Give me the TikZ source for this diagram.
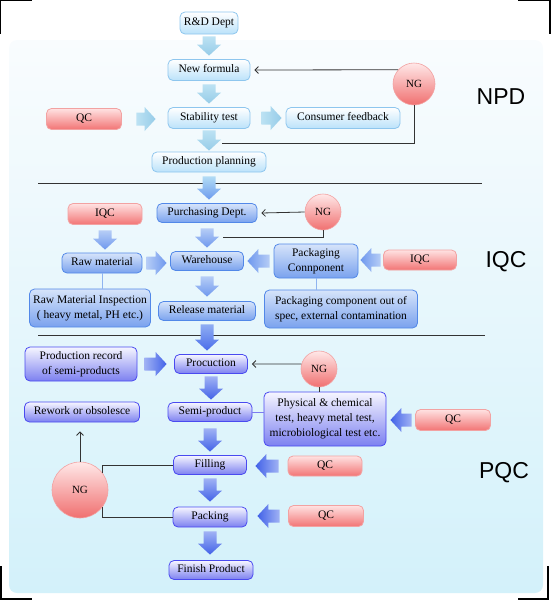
\documentclass[tikz,border=0pt]{standalone}
\usepackage{fontspec}
\setmainfont{Liberation Serif}
\newfontfamily\labfont{Liberation Sans}
\usetikzlibrary{calc,arrows.meta}
\definecolor{bgT}{HTML}{F9FCFE}
\definecolor{bgB}{HTML}{D3F1FA}
\definecolor{npdB}{HTML}{8EC6EE}
\definecolor{npdF}{HTML}{BBE2FA}
\definecolor{iqcB}{HTML}{5288E8}
\definecolor{iqcT}{HTML}{D6E4FA}
\definecolor{iqcF}{HTML}{7AA2EE}
\definecolor{pqcB}{HTML}{4A4AF0}
\definecolor{pqcT}{HTML}{F6F6FF}
\definecolor{pqcF}{HTML}{7C80F0}
\definecolor{redB}{HTML}{F2A2A2}
\definecolor{redT}{HTML}{FFE2E2}
\definecolor{redF}{HTML}{F27474}
\definecolor{ngT}{HTML}{FFE8E8}
\definecolor{ngF}{HTML}{F07070}
\definecolor{aNl}{HTML}{BCE2F3}
\definecolor{aNd}{HTML}{96CCE8}
\definecolor{aTl}{HTML}{B2DCF5}
\definecolor{aTd}{HTML}{6C9AEE}
\definecolor{aIl}{HTML}{B6CDF6}
\definecolor{aId}{HTML}{6E98EE}
\definecolor{aJl}{HTML}{8FAEF3}
\definecolor{aJd}{HTML}{4A6CEA}
\definecolor{aPl}{HTML}{A0B2F4}
\definecolor{aPd}{HTML}{4262E8}
\definecolor{connC}{HTML}{333333}
\definecolor{lineI}{HTML}{8FB4F0}
\definecolor{lineP}{HTML}{7C7CF0}
\newcommand\myDarr[5]{\shade[#1] let \p1=($(#2.south)+(0,#4)$), \p2=($(#3.north)+(0,-#5)$) in (\x1-6.5pt,\y1) -- (\x1+6.5pt,\y1) -- (\x1+6.5pt,\y2+11pt) -- (\x1+12pt,\y2+11pt) -- (\x1,\y2) -- (\x1-12pt,\y2+11pt) -- (\x1-6.5pt,\y2+11pt) -- cycle;}
\newcommand\myRarr[5]{\shade[#1] let \p1=($(#2.east)+(#4,0)$), \p2=($(#3.west)+(-#5,0)$) in (\x1,\y1+6.5pt) -- (\x2-11pt,\y1+6.5pt) -- (\x2-11pt,\y1+12pt) -- (\x2,\y1) -- (\x2-11pt,\y1-12pt) -- (\x2-11pt,\y1-6.5pt) -- (\x1,\y1-6.5pt) -- cycle;}
\newcommand\myLarr[5]{\shade[#1] let \p1=($(#2.west)+(-#4,0)$), \p2=($(#3.east)+(#5,0)$) in (\x1,\y1+6.5pt) -- (\x2+11pt,\y1+6.5pt) -- (\x2+11pt,\y1+12pt) -- (\x2,\y1) -- (\x2+11pt,\y1-12pt) -- (\x2+11pt,\y1-6.5pt) -- (\x1,\y1-6.5pt) -- cycle;}
\begin{document}
\begin{tikzpicture}[x=1pt,y=-1pt,
  box/.style={rounded corners=5pt, line width=0.8pt, inner sep=1pt, align=center, font=\fontsize{11.5}{15}\selectfont},
  one/.style={text height=8pt, text depth=2.5pt},
  npd/.style={box, draw=npdB, top color=white, bottom color=npdF},
  iqc/.style={box, draw=iqcB, top color=iqcT, bottom color=iqcF},
  pqc/.style={box, draw=pqcB, top color=pqcT, bottom color=pqcF},
  redbox/.style={box, one, draw=redB, top color=redT, bottom color=redF, minimum width=75pt, minimum height=21pt},
  ngc/.style={circle, draw=redB, line width=0.6pt, top color=ngT, bottom color=ngF, inner sep=0pt, font=\fontsize{11}{13}\selectfont},
  lab/.style={font=\labfont\fontsize{23}{23}\selectfont, inner sep=0pt},
  conn/.style={draw=connC, line width=0.8pt},
  tip/.style={-{Straight Barb[length=3.5pt,width=7pt]}},
  divider/.style={draw=connC, line width=0.8pt},
  corner/.style={draw=black, line width=1.4pt},
  aNv/.style={top color=aNl, bottom color=aNd},
  aNr/.style={left color=aNl, right color=aNd},
  aTv/.style={top color=aTl, bottom color=aTd},
  aIv/.style={top color=aIl, bottom color=aId},
  aIr/.style={left color=aIl, right color=aId},
  aIl/.style={left color=aId, right color=aIl},
  aJv/.style={top color=aJl, bottom color=aJd},
  aPv/.style={top color=aPl, bottom color=aPd},
  aPr/.style={left color=aPl, right color=aPd},
  aPl/.style={left color=aPd, right color=aPl}
]
\useasboundingbox (0,0) rectangle (550,600);
% background
\shade[rounded corners=8pt, top color=bgT, bottom color=bgB] (9,40) rectangle (543,593);
% corner marks
\draw[corner] (0,34) -- (0,0) -- (32,0);
\draw[corner] (518,0) -- (550,0) -- (550,34);
\draw[corner] (1,566) -- (1,599) -- (32,599);
\draw[corner] (518,599) -- (548,599) -- (548,566);
% section dividers
\draw[divider] (38,183) -- (482,183);
\draw[divider] (38,335) -- (485,335);
% NPD
\node[npd,one,minimum width=58pt,minimum height=22pt] (rd) at (209,23) {R\&D Dept};
\node[npd,one,minimum width=82pt,minimum height=21pt] (nf) at (209,70) {New formula};
\node[npd,one,minimum width=82pt,minimum height=21pt] (st) at (209,118) {Stability test};
\node[redbox] (qc1) at (84,119) {QC};
\node[npd,one,minimum width=114pt,minimum height=21pt] (cf) at (343,118) {Consumer feedback};
\node[ngc,minimum size=42pt] (ng1) at (414,84) {NG};
\node[npd,one,minimum width=114pt,minimum height=20pt] (pp) at (209,162) {Production planning};
\node[lab] (lnpd) at (501,97) {NPD};
% IQC
\node[iqc,one,minimum width=100pt,minimum height=19pt] (pd) at (207,213) {Purchasing Dept.};
\node[ngc,minimum size=36pt] (ng2) at (323,212) {NG};
\node[redbox,minimum width=74pt] (iqc1) at (105,214) {IQC};
\node[iqc,one,minimum width=80pt,minimum height=20pt] (rm) at (102,263) {Raw material};
\node[iqc,one,minimum width=73pt,minimum height=19pt] (wh) at (207,261) {Warehouse};
\node[iqc,minimum width=84pt,minimum height=34pt] (pk) at (316,261) {Packaging\\Connponent};
\node[redbox,minimum width=73pt,minimum height=20pt] (iqc2) at (420,260) {IQC};
\node[iqc,minimum width=121pt,minimum height=38pt] (rmi) at (90,308) {Raw Material Inspection\\( heavy metal, PH etc.)};
\node[iqc,one,minimum width=97pt,minimum height=19pt] (rl) at (207,311) {Release material};
\node[iqc,minimum width=153pt,minimum height=38pt] (pkc) at (341,309) {Packaging component out of\\spec, external contamination};
\node[lab] (liqc) at (506,262) {IQC};
% PQC
\node[pqc,minimum width=112pt,minimum height=34pt] (prr) at (81,364) {Production record\\of semi-products};
\node[pqc,one,minimum width=73pt,minimum height=19pt] (pr) at (211,364) {Procuction};
\node[ngc,minimum size=36pt] (ng3) at (319,369) {NG};
\node[pqc,one,minimum width=84pt,minimum height=19pt] (sp) at (210,412) {Semi-product};
\node[pqc,minimum width=122pt,minimum height=54pt] (phys) at (325,419) {Physical \& chemical\\test, heavy metal test,\\microbiological test etc.};
\node[redbox] (qc2) at (453,420) {QC};
\node[pqc,one,minimum width=115pt,minimum height=20pt] (rw) at (82,412) {Rework or obsolesce};
\node[pqc,one,minimum width=73pt,minimum height=19pt] (fl) at (210,465) {Filling};
\node[redbox,minimum width=74pt,minimum height=20pt] (qc3) at (325,466) {QC};
\node[ngc,minimum size=56pt] (ng4) at (80,490) {NG};
\node[pqc,one,minimum width=74pt,minimum height=20pt] (pa) at (210,517) {Packing};
\node[redbox] (qc4) at (326,516) {QC};
\node[pqc,one,minimum width=84pt,minimum height=19pt] (fp) at (211,570) {Finish Product};
\node[lab] (lpqc) at (504,473) {PQC};
% block arrows
\myDarr{aNv}{rd}{nf}{2}{3.5}
\myDarr{aNv}{nf}{st}{3.5}{3.5}
\myDarr{aNv}{st}{pp}{1.5}{1}
\myRarr{aNr}{qc1}{st}{14.5}{12}
\myRarr{aNr}{st}{cf}{11}{4}
\myDarr{aTv}{pp}{pd}{4}{3.5}
\myDarr{aIv}{iqc1}{rm}{5.5}{3}
\myDarr{aIv}{pd}{wh}{5.5}{3.5}
\myRarr{aIr}{rm}{wh}{4}{3.5}
\myLarr{aIl}{pk}{wh}{4}{3.5}
\myLarr{aIl}{iqc2}{pk}{2.5}{2}
\myDarr{aIv}{wh}{rl}{5.5}{4.5}
\myDarr{aJv}{rl}{pr}{3.5}{3.5}
\myRarr{aPr}{prr}{pr}{7}{7.5}
\myDarr{aPv}{pr}{sp}{2.5}{2.5}
\myLarr{aPl}{qc2}{phys}{3.5}{4}
\myDarr{aPv}{sp}{fl}{6.5}{3.5}
\myLarr{aPl}{qc3}{fl}{9}{8.5}
\myDarr{aPv}{fl}{pa}{3.5}{5}
\myLarr{aPl}{qc4}{pa}{8.5}{10}
\myDarr{aPv}{pa}{fp}{4}{5.5}
% thin connectors
\coordinate (e1) at (222,143);
\coordinate (e2) at (223,237);
\draw[conn,tip] (ng1.138) -- ($(nf.east)+(4,0)$);
\draw[conn] (ng1.south) |- (e1);
\draw[conn,tip] (ng2.west) -- ($(pd.east)+(4,0)$);
\draw[conn] (ng2.south) |- (e2);
\draw[draw=lineI,line width=0.8pt] (rm.south) -- (rm.south |- rmi.north);
\draw[draw=lineI,line width=0.8pt] (pk.south) -- (pk.south |- pkc.north);
\draw[conn,tip] (ng3.164) -- ($(pr.east)+(4,0)$);
\draw[conn] (ng3.south) -- (ng3.south |- phys.north);
\draw[draw=lineP,line width=0.8pt] (sp.east) -- (phys.west |- sp.east);
\draw[conn,tip] (ng4.north) -- ($(ng4.north |- rw.south)+(0,9)$);
\draw[conn] (ng4.38) |- (fl.west);
\draw[conn] (ng4.-38) |- (pa.west);
\end{tikzpicture}
\end{document}
